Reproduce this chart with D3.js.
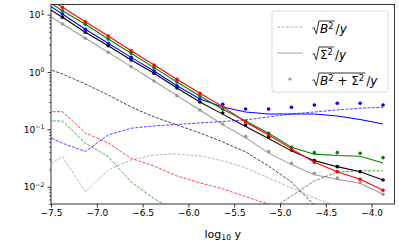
<!DOCTYPE html>
<html>
<head>
<meta charset="utf-8">
<script src="https://cdn.jsdelivr.net/npm/d3@7/dist/d3.min.js"></script>
<style>
  body { margin: 0; background: #fff; }
  svg { display: block; font-family: "DejaVu Sans", sans-serif; }
</style>
</head>
<body>
<svg width="399" height="245"></svg>
<script>
// log10 y grid (first point sits left of the axis and is clipped)
const logY = [-7.625, -7.375, -7.125, -6.875, -6.625, -6.375, -6.125, -5.875,
  -5.625, -5.375, -5.125, -4.875, -4.625, -4.375, -4.125, -3.875];
const xTicks = [-7.5, -7.0, -6.5, -6.0, -5.5, -5.0, -4.5, -4.0];
const yTicks = [1e-2, 1e-1, 1e0, 1e1];
const yTickExp = ['\u22122', '\u22121', '0', '1'];

// sqrt(B^2)/y  (dashed)
const redSys   = [0.2035, 0.2035, 0.0866, 0.058, 0.0311, 0.023, 0.0154, 0.0117, 0.0092, 0.0067, 0.005, 0.0039, 0.0033, 0.0028, 0.0024, 0.002];
const greenSys = [0.14, 0.14, 0.0573, 0.0335, 0.0121, 0.0062, 0.0036, 0.003, 0.0027, 0.0028, 0.0038, 0.0069, 0.0126, 0.0181, 0.0189, 0.0189];
const blueSys  = [0.0866, 0.0573, 0.0412, 0.0799, 0.1045, 0.1147, 0.1218, 0.1293, 0.1373, 0.1458, 0.1645, 0.1855, 0.201, 0.218, 0.2332, 0.2427];
const blackSys = [1.27, 0.923, 0.618, 0.397, 0.2457, 0.1645, 0.1193, 0.0866, 0.0603, 0.0404, 0.023, 0.0121, 0.0048, 0.0018, 0.0006, 0.0002];
const graySys  = [0.0196, 0.0335, 0.0082, 0.0196, 0.0293, 0.0358, 0.0373, 0.0344, 0.0282, 0.0213, 0.0142, 0.0095, 0.0064, 0.0045, 0.0027, 0.0018];

// sqrt(Sigma^2)/y  (solid)
const redStat   = [24, 13.4, 7.52, 4.24, 2.35, 1.325, 0.746, 0.426, 0.249, 0.1346, 0.0799, 0.0456, 0.0267, 0.0183, 0.0135, 0.0087];
const greenStat = [21, 11.7, 6.78, 3.76, 2.12, 1.19, 0.67, 0.382, 0.224, 0.14, 0.0855, 0.0488, 0.037, 0.035, 0.034, 0.026];
const blueStat  = [18.5, 10.25, 5.55, 3.16, 1.8, 1.04, 0.577, 0.339, 0.2457, 0.201, 0.1855, 0.1855, 0.1855, 0.171, 0.1488, 0.1242];
const blackStat = [16, 8.98, 4.92, 2.87, 1.62, 0.95, 0.526, 0.3, 0.184, 0.112, 0.0694, 0.0422, 0.0285, 0.0224, 0.0183, 0.0131];
const grayStat  = [12.2, 6.86, 3.87, 2.2, 1.237, 0.697, 0.387, 0.218, 0.121, 0.0716, 0.0385, 0.0243, 0.0161, 0.0135, 0.0115, 0.0074];

// sqrt(B^2 + Sigma^2)/y  (dots, from logY[1] on)
const redTot   = [13.4, 7.52, 4.24, 2.35, 1.325, 0.746, 0.426, 0.249, 0.1346, 0.0799, 0.0456, 0.0267, 0.0183, 0.0135, 0.0087];
const greenTot = [11.7, 6.78, 3.76, 2.12, 1.19, 0.67, 0.382, 0.224, 0.14, 0.0855, 0.0488, 0.0393, 0.0393, 0.0384, 0.0321];
const blueTot  = [10.25, 5.55, 3.16, 1.8, 1.04, 0.577, 0.339, 0.274, 0.2267, 0.2267, 0.2427, 0.266, 0.285, 0.285, 0.266];
const blackTot = [8.98, 4.92, 2.87, 1.62, 0.95, 0.526, 0.3, 0.193, 0.1193, 0.0729, 0.0438, 0.0285, 0.0224, 0.0183, 0.0131];
const grayTot  = [6.86, 3.87, 2.2, 1.237, 0.697, 0.387, 0.218, 0.1242, 0.0746, 0.0409, 0.0257, 0.0172, 0.0141, 0.0118, 0.0074];

const series = [
  { color: '#999999', sys: graySys, stat: grayStat, tot: grayTot },
  { color: '#000000', sys: blackSys, stat: blackStat, tot: blackTot },
  { color: '#0000ff', sys: blueSys, stat: blueStat, tot: blueTot },
  { color: '#008000', sys: greenSys, stat: greenStat, tot: greenTot },
  { color: '#ff0000', sys: redSys, stat: redStat, tot: redTot }
];

const margin = { left: 51, right: 4.5, top: 4.5, bottom: 41 };
const svg = d3.select('svg');
const width = +svg.attr('width');
const height = +svg.attr('height');
const innerWidth = width - margin.left - margin.right;
const innerHeight = height - margin.top - margin.bottom;

const g = svg.append('g')
  .attr('transform', `translate(${margin.left},${margin.top})`);

const xScale = d3.scaleLinear().domain([-7.5, -3.75]).range([0, innerWidth]);
const yScale = d3.scaleLog().domain([5e-3, 15]).range([innerHeight, 0]);

g.append('clipPath').attr('id', 'plot')
  .append('rect').attr('width', innerWidth).attr('height', innerHeight);

const plot = g.append('g').attr('clip-path', 'url(#plot)');

const line = d3.line()
  .x(d => xScale(d[0]))
  .y(d => yScale(d[1]));

series.forEach(s => {
  plot.append('path')
    .datum(logY.map((x, i) => [x, s.sys[i]]))
    .attr('d', line)
    .attr('fill', 'none')
    .attr('stroke', s.color)
    .attr('stroke-width', 0.85)
    .attr('stroke-dasharray', '3,1.4')
    .attr('opacity', 0.85);
  plot.append('path')
    .datum(logY.map((x, i) => [x, s.stat[i]]))
    .attr('d', line)
    .attr('fill', 'none')
    .attr('stroke', s.color)
    .attr('stroke-width', 1.05);
  plot.selectAll(null)
    .data(s.tot.map((v, i) => [logY[i + 1], v]))
    .enter().append('circle')
    .attr('cx', d => xScale(d[0]))
    .attr('cy', d => yScale(d[1]))
    .attr('r', 1.8)
    .attr('fill', s.color);
});

// axes
const xAxis = d3.axisBottom(xScale)
  .tickValues(xTicks)
  .tickSize(3.5)
  .tickPadding(2.5)
  .tickFormat(d => d3.format('.1f')(d).replace('-', '\u2212'));
const xAxisG = g.append('g')
  .attr('transform', `translate(0,${innerHeight})`)
  .call(xAxis);
xAxisG.select('.domain').remove();
xAxisG.selectAll('text').attr('font-size', 9).attr('font-family', 'DejaVu Sans').attr('fill', '#000');
xAxisG.selectAll('line').attr('stroke-width', 0.8);

const minors = [];
[-3, -2, -1, 0, 1].forEach(e => {
  for (let k = 2; k <= 9; k++) {
    const v = k * Math.pow(10, e);
    if (v >= 5e-3 && v <= 15) minors.push(v);
  }
});
const yMinorG = g.append('g').call(d3.axisLeft(yScale).tickValues(minors).tickSize(2).tickFormat(''));
yMinorG.select('.domain').remove();
yMinorG.selectAll('line').attr('stroke-width', 0.6);

const yAxisG = g.append('g').call(d3.axisLeft(yScale).tickValues(yTicks).tickSize(3.5).tickFormat(''));
yAxisG.select('.domain').remove();
yAxisG.selectAll('line').attr('stroke-width', 0.8);
yAxisG.selectAll('.tick').each(function(d, i) {
  const t = d3.select(this).append('text')
    .attr('x', -6.5)
    .attr('y', 3.2)
    .attr('text-anchor', 'end')
    .attr('fill', '#000')
    .attr('font-size', 9)
    .attr('font-family', 'DejaVu Sans');
  t.append('tspan').text('10');
  t.append('tspan').attr('dy', -3.8).attr('font-size', 6.3).text(yTickExp[i]);
});

// frame
g.append('rect')
  .attr('width', innerWidth).attr('height', innerHeight)
  .attr('fill', 'none').attr('stroke', '#000').attr('stroke-width', 0.8);

// x label
const xl = svg.append('text')
  .attr('x', margin.left + innerWidth / 2)
  .attr('y', 237.5)
  .attr('text-anchor', 'middle')
  .attr('font-size', 11);
xl.append('tspan').text('log');
xl.append('tspan').attr('dy', 2.5).attr('font-size', 7.7).text('10');
xl.append('tspan').attr('dy', -2.5).text(' y');

// legend
const leg = svg.append('g');
leg.append('rect')
  .attr('x', 272).attr('y', 11).attr('width', 116).attr('height', 81).attr('rx', 2.5)
  .attr('fill', '#fff').attr('fill-opacity', 0.8)
  .attr('stroke', '#d0d0d0').attr('stroke-width', 0.8);

leg.append('line').attr('x1', 277).attr('x2', 303).attr('y1', 27).attr('y2', 27)
  .attr('stroke', '#aaaaaa').attr('stroke-width', 0.9).attr('stroke-dasharray', '3,1.4');
leg.append('line').attr('x1', 277).attr('x2', 303).attr('y1', 53).attr('y2', 53)
  .attr('stroke', '#aaaaaa').attr('stroke-width', 1.1);
leg.append('circle').attr('cx', 290).attr('cy', 79).attr('r', 1.6).attr('fill', '#999999');

function sqrtLabel(x, base, parts) {
  const fs = 12;
  const t = leg.append('text').attr('x', x + 7.5).attr('y', base).attr('font-size', fs);
  let up = 0;
  parts.forEach(p => {
    const ts = t.append('tspan').text(p.t);
    if (p.it) ts.attr('font-style', 'italic');
    if (p.sup && !up) { ts.attr('dy', -4.5).attr('font-size', fs * 0.7); up = 1; }
    else if (p.sup) ts.attr('font-size', fs * 0.7);
    else if (up) { ts.attr('dy', 4.5); up = 0; }
  });
  const w = t.node().getComputedTextLength();
  const top = base - 12;
  leg.append('path')
    .attr('d', `M${x},${base - 4.5} L${x + 1.6},${base - 5.5} L${x + 3.8},${base + 0.8} L${x + 6.5},${top} L${x + 7.5 + w + 1},${top}`)
    .attr('fill', 'none').attr('stroke', '#000').attr('stroke-width', 0.8);
  const tail = leg.append('text').attr('x', x + 7.5 + w + 2).attr('y', base).attr('font-size', fs);
  tail.append('tspan').text('/');
  tail.append('tspan').attr('font-style', 'italic').text('y');
}

sqrtLabel(312.5, 33, [{ t: 'B', it: 1 }, { t: '2', sup: 1 }]);
sqrtLabel(312.5, 59, [{ t: '\u03A3' }, { t: '2', sup: 1 }]);
sqrtLabel(312.5, 85, [{ t: 'B', it: 1 }, { t: '2', sup: 1 }, { t: ' + ' }, { t: '\u03A3' }, { t: '2', sup: 1 }]);
</script>
</body>
</html>
